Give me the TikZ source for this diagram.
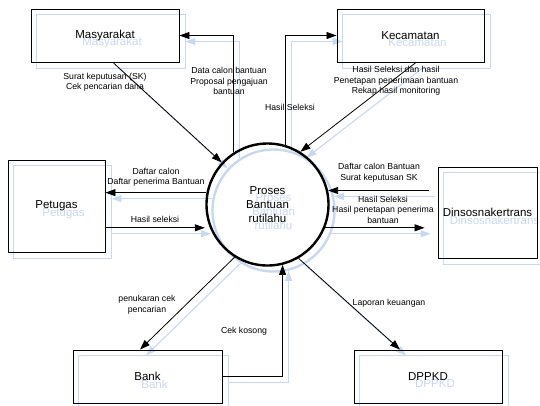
\documentclass[tikz,border=0pt]{standalone}
\usepackage{fontspec}
\setmainfont{Liberation Sans}
\usetikzlibrary{arrows.meta,calc,backgrounds}
\definecolor{ghostblue}{RGB}{200,216,240}
\tikzset{
  entity/.style={draw=black, line width=0.9pt, inner sep=0pt, align=center,
    font=\fontsize{11.5}{14}\selectfont},
  process/.style={circle, draw=black, line width=2.4pt, minimum size=122pt,
    inner sep=0pt, align=center, font=\fontsize{11.5}{14}\selectfont},
  flow/.style={draw=black, line width=0.8pt, -{Triangle[length=10pt,width=7pt]}},
  ghostflow/.style={draw=ghostblue, line width=1.1pt, -{Triangle[length=10pt,width=7pt]}},
  ghostline/.style={draw=ghostblue, line width=1pt},
  ghostcircle/.style={draw=ghostblue, line width=2.4pt},
  ghosttext/.style={text=ghostblue, align=center, inner sep=0pt,
    font=\fontsize{11.5}{14}\selectfont},
  flowlabel/.style={font=\fontsize{8.7}{10.5}\selectfont, align=center, inner sep=0pt},
}
% data flows between the process and the external entities
\newcommand{\flowlines}[1]{%
  \draw[#1] ($(mas.south)+(8,0)$) -- (c);
  \draw[#1] (c.123) |- (mas.east);
  \draw[#1] (c.73) |- (kec.west);
  \draw[#1] ($(kec.south)+(5.5,0)$) -- (c.58);
  \draw[#1] (c.169) -- (c.169 -| pet.east);
  \draw[#1, shorten >=5pt] (c.202 -| pet.east) -- (c.202);
  \draw[#1, shorten <=9pt] (c.13 -| din.west) -- (c.13);
  \draw[#1, shorten >=13pt] (c.338) -- (c.338 -| din.west);
  \draw[#1] (c.238) -- ($(bank.north)+(-7.5,0)$);
  \draw[#1] (bank.east) -| (c.284);
  \draw[#1] (c.300) -- ($(dp.north)+(-28,0)$);
}
\begin{document}
\begin{tikzpicture}[x=1pt,y=-1pt]
\useasboundingbox (0,0) rectangle (540,405);

% external entities
\node[entity, minimum width=148pt, minimum height=53pt] (mas) at (105,35.5) {Masyarakat};
\node[entity, minimum width=147pt, minimum height=53pt] (kec) at (410.5,35.5) {Kecamatan};
\node[entity, minimum width=97pt, minimum height=92pt] (pet) at (56.5,206) {Petugas};
\node[entity, minimum width=99pt, minimum height=91pt] (din) at (487.5,212.5) {Dinsosnakertrans};
\node[entity, minimum width=149pt, minimum height=53pt] (bank) at (147.5,376.5) {Bank};
\node[entity, minimum width=148pt, minimum height=53pt] (dp) at (428,376.5) {DPPKD};

% process
\node[process] (c) at (267.5,204.5) {Proses\\Bantuan\\rutilahu};

\flowlines{flow}

% flow labels
\node[flowlabel] (l1) at (105,82) {Surat keputusan (SK)\\Cek pencarian dana};
\node[flowlabel] (l2) at (229,81) {Data calon bantuan\\Proposal pengajuan\\bantuan};
\node[flowlabel] (l3) at (290,107) {Hasil Seleksi};
\node[flowlabel] (l4) at (396,81) {Hasil Seleksi dan hasil\\Penetapan penerimaan bantuan\\Rekap hasil monitoring};
\node[flowlabel] (l5) at (156,177) {Daftar calon\\Daftar penerima Bantuan};
\node[flowlabel] (l6) at (155,219) {Hasil seleksi};
\node[flowlabel] (l7) at (379,172.5) {Daftar calon Bantuan\\Surat keputusan SK};
\node[flowlabel] (l8) at (383,209.5) {Hasil Seleksi\\Hasil penetapan penerima\\bantuan};
\node[flowlabel] (l9) at (147,304.5) {penukaran cek\\pencarian};
\node[flowlabel] (l10) at (244,331) {Cek kosong};
\node[flowlabel] (l11) at (389,303) {Laporan keuangan};

% faint offset shadow copy behind the diagram
\begin{pgfonlayer}{background}
\begin{scope}[transform canvas={shift={(6pt,-6pt)}}]
  \foreach \n in {mas,kec,pet,din,bank,dp}
    \draw[ghostline] (\n.north west) rectangle (\n.south east);
  \draw[ghostcircle] (c.center) circle (61pt);
  \flowlines{ghostflow}
  \node[ghosttext] (masg) at ($(mas)+(1,1.5)$) {Masyarakat};
  \node[ghosttext] (kecg) at ($(kec)+(1,1.5)$) {Kecamatan};
  \node[ghosttext] (petg) at ($(pet)+(1,1.5)$) {Petugas};
  \node[ghosttext] (ding) at ($(din)+(1,1.5)$) {Dinsosnakertrans};
  \node[ghosttext] (bankg) at ($(bank)+(1,1.5)$) {Bank};
  \node[ghosttext] (dpg) at ($(dp)+(1,1.5)$) {DPPKD};
  \node[ghosttext] (cg) at ($(c)+(0,1)$) {Proses\\Bantuan\\rutilahu};
\end{scope}
\end{pgfonlayer}
\end{tikzpicture}
\end{document}
